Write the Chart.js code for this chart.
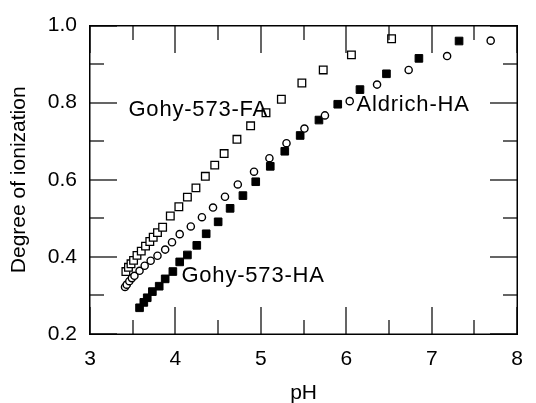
<!DOCTYPE html>
<html>

<head>
  <meta name="viewport" content="width=device-width,initial-scale=1.0">
  <title>Degree of ionization vs pH</title>
  <style>
    body {
      margin: 0;
      background: #fff;
    }

    .wrap {
      width: 536px;
      height: 403px;
    }
  </style>
</head>

<body>
  <div class="wrap">
    <canvas id="ion-chart" width="536" height="403"></canvas>
  </div>

  <script src="https://cdn.jsdelivr.net/npm/chart.js"></script>

  <script>
    // Gohy-573-FA (open squares)
    const phFA = [3.42, 3.45, 3.48, 3.51, 3.55, 3.60, 3.65, 3.70, 3.74, 3.79, 3.85, 3.94, 4.04, 4.14, 4.24, 4.35, 4.46, 4.57, 4.72, 4.88, 5.06, 5.24, 5.48, 5.73, 6.06, 6.53];
    const ionFA = [0.362, 0.373, 0.382, 0.391, 0.404, 0.415, 0.428, 0.440, 0.451, 0.463, 0.477, 0.506, 0.530, 0.555, 0.579, 0.609, 0.638, 0.668, 0.705, 0.740, 0.774, 0.809, 0.851, 0.885, 0.924, 0.966];

    // Aldrich-HA (open circles)
    const phAldrich = [3.41, 3.43, 3.46, 3.49, 3.52, 3.58, 3.64, 3.71, 3.79, 3.88, 3.96, 4.05, 4.18, 4.31, 4.44, 4.58, 4.73, 4.92, 5.10, 5.30, 5.51, 5.75, 6.04, 6.36, 6.73, 7.18, 7.69];
    const ionAldrich = [0.322, 0.328, 0.337, 0.345, 0.351, 0.364, 0.377, 0.390, 0.403, 0.419, 0.438, 0.459, 0.479, 0.503, 0.528, 0.556, 0.588, 0.621, 0.656, 0.695, 0.733, 0.767, 0.804, 0.847, 0.885, 0.921, 0.961];

    // Gohy-573-HA (filled squares)
    const phHA = [3.58, 3.63, 3.67, 3.73, 3.81, 3.88, 3.97, 4.05, 4.14, 4.25, 4.36, 4.50, 4.64, 4.79, 4.94, 5.11, 5.28, 5.46, 5.68, 5.90, 6.16, 6.47, 6.85, 7.32];
    const ionHA = [0.268, 0.282, 0.294, 0.310, 0.324, 0.343, 0.362, 0.387, 0.405, 0.430, 0.460, 0.491, 0.526, 0.559, 0.595, 0.635, 0.674, 0.715, 0.755, 0.796, 0.834, 0.875, 0.915, 0.960];

    const xMajor = [3, 4, 5, 6, 7, 8];
    const xMinor = [3.5, 4.5, 5.5, 6.5, 7.5];
    const yMajor = [0.2, 0.4, 0.6, 0.8, 1.0];
    const yMinor = [0.3, 0.5, 0.7, 0.9];

    // in-plot labels: text, pH, degree (baseline)
    const seriesNames = ['Gohy-573-FA', 'Aldrich-HA', 'Gohy-573-HA'];
    const namePH = [3.45, 6.12, 4.07];
    const nameIon = [0.766, 0.779, 0.334];

    const FONT = '"Liberation Sans", Arial, Helvetica, sans-serif';

    const pts = (xs, ys) => xs.map((x, i) => ({ x, y: ys[i] }));

    // frame, inward ticks on all four sides, series names
    const frameTicks = {
      id: 'frameTicks',
      afterDraw(chart) {
        const { ctx, chartArea: a, scales: { x, y } } = chart;
        const L = Math.round(a.left), R = Math.round(a.right);
        const T = Math.round(a.top), B = Math.round(a.bottom);
        ctx.save();
        ctx.globalAlpha = 1;
        ctx.globalCompositeOperation = 'source-over';
        ctx.fillStyle = '#000';

        // frame
        ctx.fillRect(L - 1, T - 1, R - L + 2, 1.5);
        ctx.fillRect(L - 1, B - 0.5, R - L + 2, 1.5);
        ctx.fillRect(L - 1, T - 1, 1.5, B - T + 2);
        ctx.fillRect(R - 0.5, T - 1, 1.5, B - T + 2);

        const xt = (v, len) => {
          const px = Math.round(x.getPixelForValue(v));
          ctx.fillRect(px - 0.6, B - len, 1.2, len);
          ctx.fillRect(px - 0.6, T, 1.2, len);
        };
        const yt = (v, len) => {
          const py = Math.round(y.getPixelForValue(v));
          ctx.fillRect(L, py - 0.6, len, 1.2);
          ctx.fillRect(R - len, py - 0.6, len, 1.2);
        };
        xMajor.forEach(v => xt(v, 27));
        xMinor.forEach(v => xt(v, 14));
        yMajor.forEach(v => yt(v, 27));
        yMinor.forEach(v => yt(v, 14));

        ctx.font = '22px ' + FONT;
        ctx.letterSpacing = '0.8px';
        ctx.textAlign = 'left';
        ctx.textBaseline = 'alphabetic';
        seriesNames.forEach((t, i) => {
          ctx.fillText(t, x.getPixelForValue(namePH[i]), y.getPixelForValue(nameIon[i]));
        });
        ctx.restore();
      }
    };

    new Chart(document.getElementById('ion-chart'), {
      type: 'scatter',
      data: {
        datasets: [{
          label: seriesNames[1],
          data: pts(phAldrich, ionAldrich),
          pointStyle: 'circle',
          pointRadius: 3.6,
          borderWidth: 1.4,
          borderColor: '#000',
          backgroundColor: '#fff'
        }, {
          label: seriesNames[0],
          data: pts(phFA, ionFA),
          pointStyle: 'rect',
          pointRadius: 5.4,
          borderWidth: 1.3,
          borderColor: '#000',
          backgroundColor: '#fff'
        }, {
          label: seriesNames[2],
          data: pts(phHA, ionHA),
          pointStyle: 'rect',
          pointRadius: 5.4,
          borderWidth: 1,
          borderColor: '#000',
          backgroundColor: '#000'
        }]
      },
      options: {
        responsive: false,
        animation: false,
        devicePixelRatio: 1,
        layout: { padding: { top: 22, right: 4, left: 0, bottom: 0 } },
        plugins: { legend: { display: false }, tooltip: { enabled: false } },
        scales: {
          x: {
            min: 3, max: 8,
            grid: { display: false, drawTicks: false },
            border: { display: false },
            afterBuildTicks: s => { s.ticks = xMajor.map(v => ({ value: v })); },
            afterFit: s => { s.height = 69; },
            ticks: {
              color: '#000', padding: 13,
              font: { family: FONT, size: 21 },
              callback: v => String(v),
              maxRotation: 0
            },
            title: {
              display: true, text: 'pH', color: '#000',
              font: { family: FONT, size: 21 },
              padding: { top: 0, bottom: -3 }
            }
          },
          y: {
            min: 0.2, max: 1.0,
            grid: { display: false, drawTicks: false },
            border: { display: false },
            afterBuildTicks: s => { s.ticks = yMajor.map(v => ({ value: v })); },
            afterFit: s => { s.width = 90; },
            ticks: {
              color: '#000', padding: 13,
              font: { family: FONT, size: 21 },
              callback: v => Number(v).toFixed(1)
            },
            title: {
              display: true, text: 'Degree of ionization', color: '#000',
              font: { family: FONT, size: 21 },
              padding: { top: 7, bottom: 0 }
            }
          }
        }
      },
      plugins: [frameTicks]
    });
  </script>
</body>

</html>
